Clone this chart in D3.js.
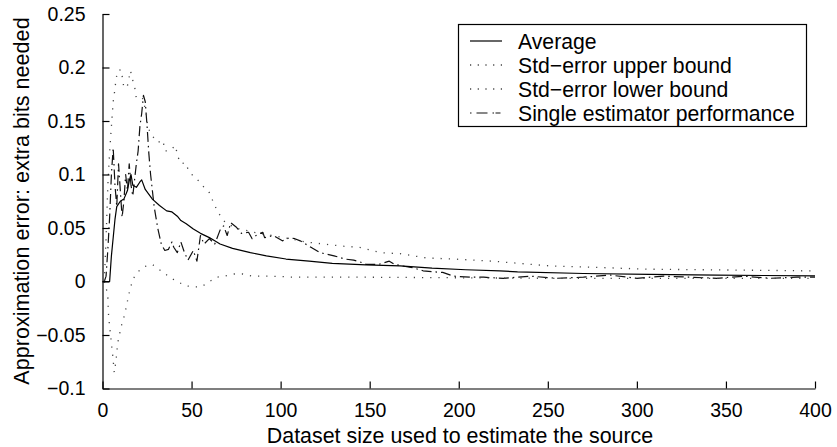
<!DOCTYPE html>
<html>
<head>
<meta charset="utf-8">
<script src="https://cdn.jsdelivr.net/npm/d3@7"></script>
<style>
  html, body { margin: 0; padding: 0; background: #fff; }
  svg { display: block; font-family: "Liberation Sans", Arial, Helvetica, sans-serif; }
</style>
</head>
<body>
<svg id="chart" width="837" height="447"></svg>
<script>
// ---- Data ----
const averageX = [0,1,2,3,4,5,7,8,10,12,14,15,16,17,19,21,22,24,28,32,36,39,42,44,47,51,55,60,63,66,73,83,92,103,116,129,148,167,185,204,223,233,270,307,345,400];
const averageY = [0,0,0,0,0,0.024,0.058,0.07,0.075,0.077,0.085,0.094,0.1,0.09,0.088,0.093,0.095,0.086,0.077,0.071,0.066,0.065,0.061,0.057,0.054,0.049,0.045,0.041,0.038,0.035,0.031,0.027,0.024,0.021,0.019,0.017,0.0156,0.0146,0.0125,0.011,0.010,0.009,0.0075,0.0066,0.0059,0.0053];

const upperX = [1,2,3,4,5,6,7,7.5,8.5,10.5,12,14,15.7,17,18.4,19,21,22.6,24.6,25.4,28,31,34,35,37.6,41,42,44,46.6,48.5,51.3,54,57,60,62,64.4,66.7,69,75,85,95,105,114,124,135,144,156,167,182,197,219,251,307,400];
const upperY = [0,0.04,0.09,0.121,0.145,0.168,0.18,0.188,0.197,0.198,0.181,0.183,0.197,0.188,0.179,0.171,0.171,0.171,0.157,0.144,0.136,0.13,0.132,0.122,0.122,0.127,0.118,0.11,0.111,0.103,0.098,0.094,0.088,0.083,0.075,0.066,0.06,0.055,0.05,0.046,0.043,0.04,0.037,0.035,0.033,0.032,0.027,0.026,0.022,0.021,0.019,0.0146,0.0115,0.0099];

const lowerX = [1,2,3,3.4,4.5,5.8,6.6,7.5,8.6,10.5,12.4,15.2,17,19.8,23.6,27.9,32,38.6,46.6,51.3,55.4,59.2,63.9,68.5,73.8,78.8,84.1,94.8,108,150,200,250,300,400];
const lowerY = [0,-0.005,-0.015,-0.032,-0.05,-0.07,-0.085,-0.075,-0.057,-0.042,-0.031,-0.009,0.002,0.009,0.014,0.016,0.011,0.003,-0.004,-0.005,-0.005,-0.001,0.004,0.005,0.007,0.007,0.005,0.005,0.004,0.004,0.0035,0.003,0.003,0.003];

const singleX = [1,2,3,4,5,6,7,8,9,10,11,12,13,14,15,16,17,18,19,20,21,22,23,24,25,26,27,28,29,30,31,33,35,37,39,40,42,44,46,48,51,53,55,57,60,63,66,68,70,72,75,78,82,84,87,90,91,96,101,105,108,111,117,122,130,136,141,145,148,155,161,164,170,174,180,186,191,197,207,214,225,240,255,270,285,300,315,330,345,360,375,390,400];
const singleY = [0,0.005,0.03,0.06,0.1,0.125,0.09,0.07,0.11,0.085,0.06,0.075,0.1,0.085,0.11,0.09,0.08,0.095,0.11,0.122,0.145,0.157,0.174,0.168,0.146,0.12,0.1,0.085,0.07,0.06,0.05,0.035,0.029,0.03,0.037,0.032,0.027,0.037,0.027,0.02,0.029,0.019,0.043,0.035,0.04,0.035,0.048,0.052,0.043,0.055,0.051,0.045,0.046,0.04,0.044,0.046,0.041,0.043,0.038,0.041,0.04,0.038,0.032,0.027,0.024,0.021,0.02,0.018,0.016,0.016,0.019,0.016,0.014,0.013,0.01,0.009,0.0085,0.005,0.004,0.004,0.003,0.005,0.003,0.004,0.006,0.003,0.005,0.004,0.003,0.005,0.003,0.004,0.004];

const xTicks = [0,50,100,150,200,250,300,350,400];
const xTickLabels = ["0","50","100","150","200","250","300","350","400"];
const yTicks = [-0.1,-0.05,0,0.05,0.1,0.15,0.2,0.25];
const yTickLabels = ["\u22120.1","\u22120.05","0","0.05","0.1","0.15","0.2","0.25"];

const legendLabels = ["Average","Std\u2212error upper bound","Std\u2212error lower bound","Single estimator performance"];
const xLabel = "Dataset size used to estimate the source";
const yLabel = "Approximation error: extra bits needed";

// ---- Layout ----
const svg = d3.select("#chart");
const plotLeft = 102.5, plotRight = 815, plotTop = 14, plotBottom = 388.5;

const x = d3.scaleLinear().domain([0, 400]).range([plotLeft, plotRight]);
const y = d3.scaleLinear().domain([-0.1, 0.25]).range([plotBottom, plotTop]);

const styles = [
  { dash: null, width: 1.2, color: "#000" },
  { dash: "1.2,7", width: 1.3, color: "#444" },
  { dash: "1.2,7", width: 1.3, color: "#444" },
  { dash: "10,4,1.5,4", width: 1.2, color: "#111" }
];

const series = [
  averageX.map((d, i) => [d, averageY[i]]),
  upperX.map((d, i) => [d, upperY[i]]),
  lowerX.map((d, i) => [d, lowerY[i]]),
  singleX.map((d, i) => [d, singleY[i]])
];

const line = d3.line().x(d => x(d[0])).y(d => y(d[1]));

const order = [3, 1, 2, 0];
order.forEach(k => {
  svg.append("path")
    .datum(series[k])
    .attr("fill", "none")
    .attr("stroke", styles[k].color)
    .attr("stroke-width", styles[k].width)
    .attr("stroke-dasharray", styles[k].dash)
    .attr("stroke-linejoin", "round")
    .attr("d", line);
});

// ---- Axes ----
const xAxis = d3.axisBottom(x)
  .tickValues(xTicks)
  .tickFormat((d, i) => xTickLabels[i])
  .tickSizeInner(-7)
  .tickSizeOuter(0)
  .tickPadding(12);
const gx = svg.append("g").attr("transform", `translate(0,${plotBottom})`).call(xAxis);
gx.selectAll("text").attr("font-size", 19.5).attr("fill", "#000").attr("dy", "0.85em").attr("font-family", "Liberation Sans, Arial, sans-serif");

const yAxis = d3.axisLeft(y)
  .tickValues(yTicks)
  .tickFormat((d, i) => yTickLabels[i])
  .tickSizeInner(-7)
  .tickSizeOuter(0)
  .tickPadding(17);
const gy = svg.append("g").attr("transform", `translate(${plotLeft},0)`).call(yAxis);
gy.selectAll("text").attr("font-size", 19.5).attr("fill", "#000").attr("font-family", "Liberation Sans, Arial, sans-serif");

svg.selectAll(".domain").attr("stroke", "#000").attr("stroke-width", 1.2);
svg.selectAll(".tick line").attr("stroke", "#000").attr("stroke-width", 1.2);

svg.append("text")
  .attr("x", 460)
  .attr("y", 443)
  .attr("text-anchor", "middle")
  .attr("font-size", 21.4)
  .attr("fill", "#000")
  .text(xLabel);

svg.append("text")
  .attr("transform", `translate(29,201) rotate(-90)`)
  .attr("text-anchor", "middle")
  .attr("font-size", 21.6)
  .attr("fill", "#000")
  .text(yLabel);

// ---- Legend ----
const lg = svg.append("g");
lg.append("rect")
  .attr("x", 458.5).attr("y", 24.5)
  .attr("width", 348).attr("height", 102)
  .attr("fill", "#fff").attr("stroke", "#000").attr("stroke-width", 1.2);

const rowY = [41, 65, 89, 113];
legendLabels.forEach((lab, i) => {
  lg.append("line")
    .attr("x1", 470).attr("x2", 502)
    .attr("y1", rowY[i]).attr("y2", rowY[i])
    .attr("stroke", styles[i].color)
    .attr("stroke-width", styles[i].width)
    .attr("stroke-dasharray", i === 3 ? "1.5,5,11,5,1.5" : (i === 0 ? null : "1.2,6.5"));
  lg.append("text")
    .attr("x", 518).attr("y", rowY[i])
    .attr("dy", "0.36em")
    .attr("font-size", 21.2)
    .attr("fill", "#000")
    .text(lab);
});
</script>
</body>
</html>
